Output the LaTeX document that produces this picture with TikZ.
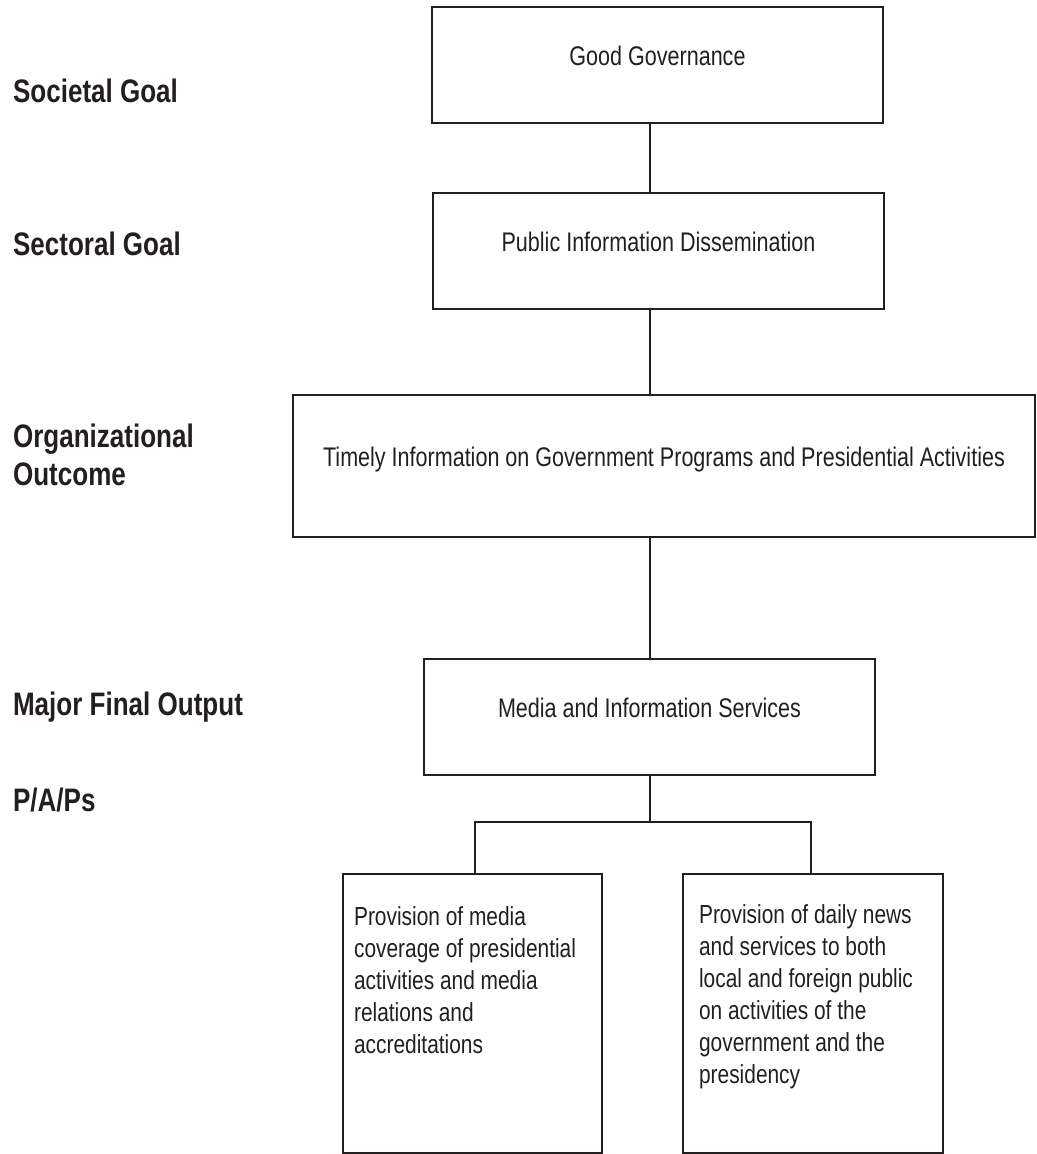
\documentclass[tikz,border=0pt]{standalone}
\usepackage{fontspec}
\setmainfont{Liberation Sans}[FakeStretch=0.8]
\usetikzlibrary{positioning}
\definecolor{ink}{HTML}{231F20}

\begin{document}
\begin{tikzpicture}[x=0.75pt,y=-0.75pt,line width=1.6pt,color=ink,
  tier/.style={draw,minimum width=338.25pt,minimum height=87pt,inner sep=0pt,text height=0pt,text depth=0pt,font=\fontsize{20.2}{24}\selectfont},
  pap/.style={draw,minimum width=194.25pt,minimum height=209.25pt,inner sep=0pt},
  paptext/.style={anchor=base west,align=left,inner sep=0pt,font=\fontsize{19.6}{24}\selectfont},
  level/.style={anchor=base west,align=left,inner sep=0pt,font=\bfseries\fontsize{24.4}{28.5}\selectfont}]
  \useasboundingbox (0,0) rectangle (1037,1154);
  \node[level] (societal) at (12,102) {Societal Goal};
  \node[level] (sectoral) at (12,255) {Sectoral Goal};
  \node[level] (organizational) at (12,485) {Organizational\\Outcome};
  \node[level] (major) at (12,715) {Major Final Output};
  \node[level] (paps) at (12,811) {P/A/Ps};
  \node[tier] (goal) at (657.5,65) {Good Governance};
  \node[tier] (sector) at (658.5,251) {Public Information Dissemination};
  \node[tier,minimum width=556.5pt,minimum height=106.5pt] (outcome) at (664,466) {Timely Information on Government Programs and Presidential Activities};
  \node[tier] (mfo) at (649.5,717) {Media and Information Services};
  \node[pap] (pap1) at (472.5,1013.5) {};
  \node[pap,minimum width=195pt] (pap2) at (813,1013.5) {};
  \node[paptext] (pap1txt) at (353,1053) {Provision of media\\coverage of presidential\\activities and media\\relations and\\accreditations};
  \node[paptext] (pap2txt) at (698,1083) {Provision of daily news\\and services to both\\local and foreign public\\on activities of the\\government and the\\presidency};
  \coordinate (trunk) at (650,0);
  \coordinate (fork) at (650,822);
  \coordinate (forkl) at (475,822);
  \coordinate (forkr) at (811,822);
  \draw (goal.south -| trunk) -- (sector.north -| trunk);
  \draw (sector.south -| trunk) -- (outcome.north -| trunk);
  \draw (outcome.south -| trunk) -- (mfo.north -| trunk);
  \draw (mfo.south -| fork) -- (fork);
  \draw (pap1.north -| forkl) -- (forkl) -- (forkr) -- (pap2.north -| forkr);
\end{tikzpicture}
\end{document}
